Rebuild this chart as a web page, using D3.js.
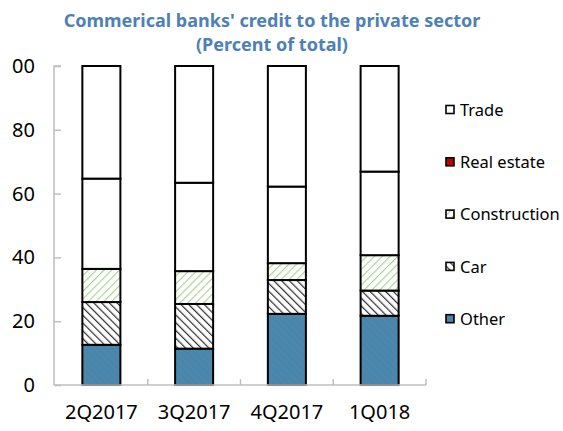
<!DOCTYPE html>
<html>
<head>
<meta charset="utf-8">
<script src="https://cdn.jsdelivr.net/npm/d3@7"></script>
<style>
  html, body { margin: 0; padding: 0; background: #fff; }
  svg { display: block; font-family: "Noto Sans", "Open Sans", sans-serif; }
</style>
</head>
<body>
<svg id="chart" width="563" height="431"></svg>
<script>
// Quarters on the horizontal axis
const quarters = ["2Q2017", "3Q2017", "4Q2017", "1Q018"];

// Share of each sector in total credit (percent), bottom to top of each stack
const other        = [12.6, 11.4, 22.3, 21.7];
const car          = [13.4, 14.0, 10.6, 7.9];
const construction = [10.4, 10.3, 5.3, 11.1];
const realEstate   = [28.3, 27.7, 24.0, 26.2];
const trade        = [35.3, 36.6, 37.8, 33.1];

const sectorNames = ["Other", "Car", "Construction", "Real estate", "Trade"];
const yTicks = [0, 20, 40, 60, 80, 100];

const titleLines = ["Commerical banks' credit to the private sector", "(Percent of total)"];

const rows = quarters.map((q, i) => ({
  quarter: q,
  "Other": other[i],
  "Car": car[i],
  "Construction": construction[i],
  "Real estate": realEstate[i],
  "Trade": trade[i]
}));

const svg = d3.select("#chart");
const defs = svg.append("defs");

// Hatch patterns
function hatch(id, bg, stroke, width, dir, spacing) {
  const p = defs.append("pattern")
    .attr("id", id)
    .attr("patternUnits", "userSpaceOnUse")
    .attr("width", spacing).attr("height", spacing)
    .attr("patternTransform", `rotate(${dir})`);
  p.append("rect").attr("width", spacing).attr("height", spacing).attr("fill", bg);
  if (stroke) {
    p.append("line")
      .attr("x1", 0).attr("y1", 0).attr("x2", 0).attr("y2", spacing)
      .attr("stroke", stroke).attr("stroke-width", width);
  }
}
hatch("pat-other", "#4a86ab", "#4f8aae", 1.5, -45, 5);
hatch("pat-car", "#ffffff", "#2e2e2e", 2.4, -45, 5.5);
hatch("pat-constr", "#ffffff", "#a9d18e", 2.2, 45, 5.5);

// Clip region for the y tick labels (the leftmost glyphs run past the edge)
defs.append("clipPath").attr("id", "ylab-clip")
  .append("rect").attr("x", 11).attr("y", 0).attr("width", 40).attr("height", 431);

const barFill = {
  "Other": "url(#pat-other)",
  "Car": "url(#pat-car)",
  "Construction": "url(#pat-constr)",
  "Real estate": "#ffffff",
  "Trade": "#ffffff"
};
const legendFill = {
  "Other": "#4a86ab",
  "Car": "url(#pat-car)",
  "Construction": "url(#pat-constr)",
  "Real estate": "#c00000",
  "Trade": "#ffffff"
};

const x = d3.scaleBand()
  .domain(quarters)
  .range([55, 426])
  .paddingInner(0.59)
  .paddingOuter(0.295);

const y = d3.scaleLinear().domain([0, 100]).range([385, 66]);

const stack = d3.stack().keys(sectorNames);
const series = stack(rows);

// Title
const title = svg.append("g")
  .attr("fill", "#4d81b5")
  .attr("font-weight", "bold")
  .attr("font-size", 18)
  .attr("text-anchor", "middle");
title.selectAll("text")
  .data(titleLines)
  .join("text")
  .attr("x", 272)
  .attr("y", (d, i) => 27 + i * 24)
  .text(d => d);

// Bars
svg.append("g")
  .selectAll("g")
  .data(series)
  .join("g")
  .attr("fill", d => barFill[d.key])
  .selectAll("rect")
  .data(d => d)
  .join("rect")
  .attr("x", d => x(d.data.quarter))
  .attr("width", x.bandwidth())
  .attr("y", d => y(d[1]))
  .attr("height", d => y(d[0]) - y(d[1]))
  .attr("stroke", "#000")
  .attr("stroke-width", 2);

// Y axis, ticks pointing inward
const yAxis = svg.append("g")
  .attr("transform", "translate(54,0)")
  .call(d3.axisRight(y).tickValues(yTicks).tickSize(7).tickFormat(""));
yAxis.selectAll("path, line").attr("stroke", "#bfbfbf").attr("stroke-width", 1.5);
yAxis.select(".domain").attr("d", `M7,${y(100)}H0V${y(0)}`);

svg.append("g")
  .attr("clip-path", "url(#ylab-clip)")
  .attr("font-size", 20)
  .attr("fill", "#000")
  .attr("text-anchor", "end")
  .selectAll("text")
  .data(yTicks)
  .join("text")
  .attr("x", 35)
  .attr("y", d => y(d))
  .attr("dy", "0.35em")
  .text(d => d);

// X axis with tick marks between categories
const xAxis = svg.append("g").attr("transform", `translate(0,${y(0)})`);
xAxis.append("line")
  .attr("x1", 54).attr("x2", x.range()[1])
  .attr("stroke", "#bfbfbf").attr("stroke-width", 1.5);
const bounds = quarters.map((q, i) => x.range()[0] + (i + 1) * x.step());
xAxis.selectAll(".tk")
  .data(bounds)
  .join("line")
  .attr("class", "tk")
  .attr("x1", d => d).attr("x2", d => d)
  .attr("y1", 0).attr("y2", -6)
  .attr("stroke", "#bfbfbf").attr("stroke-width", 1.5);

svg.append("g")
  .attr("font-size", 20)
  .attr("fill", "#000")
  .attr("text-anchor", "middle")
  .selectAll("text")
  .data(quarters)
  .join("text")
  .attr("x", d => x(d) + x.bandwidth() / 2)
  .attr("y", 419)
  .text(d => d);

// Legend, top entry is the top of the stack
const legendKeys = sectorNames.slice().reverse();
const legend = svg.append("g")
  .selectAll("g")
  .data(legendKeys)
  .join("g")
  .attr("transform", (d, i) => `translate(446,${110 + i * 52.3})`);
legend.append("rect")
  .attr("x", 0).attr("y", -4.5)
  .attr("width", 8).attr("height", 8)
  .attr("fill", d => legendFill[d])
  .attr("stroke", "#000")
  .attr("stroke-width", 1.6);
legend.append("text")
  .attr("x", 14)
  .attr("y", 0)
  .attr("dy", "0.35em")
  .attr("font-size", 16.5)
  .attr("fill", "#000")
  .text(d => d);
</script>
</body>
</html>
